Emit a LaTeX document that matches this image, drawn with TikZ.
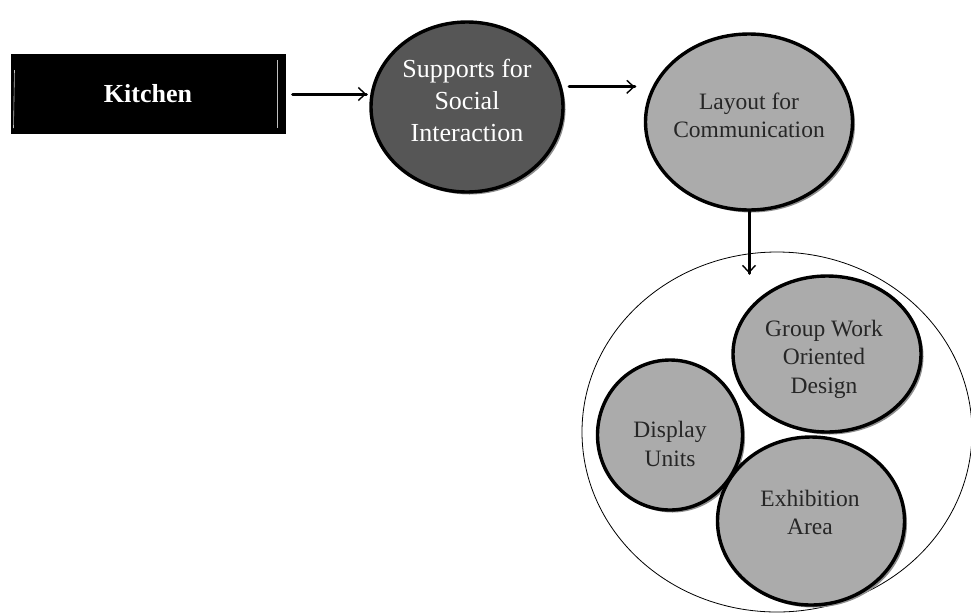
\documentclass[tikz,border=0pt]{standalone}
\usepackage{fontspec}
\setmainfont{Liberation Serif}
\usetikzlibrary{shapes.geometric,arrows.meta,shadows}

\definecolor{darkblob}{HTML}{565656}
\definecolor{lightblob}{HTML}{ABABAB}
\definecolor{rimgray}{HTML}{8E8E8E}

\tikzset{
  blob/.style={ellipse, inner sep=0pt, line width=3.4pt, draw=black,
    drop shadow={shadow xshift=2.5pt, shadow yshift=-2.5pt, fill=rimgray, opacity=1}},
  darkblob/.style={blob, fill=darkblob},
  lightblob/.style={blob, fill=lightblob},
  darktext/.style={align=center, text=white, inner sep=0pt,
    font=\fontsize{26}{32}\selectfont},
  lighttext/.style={align=center, text=black!85, inner sep=0pt,
    font=\fontsize{23.5}{28.5}\selectfont},
  label box/.style={rectangle, fill=black, draw=black, line width=2pt,
    text=white, inner sep=0pt, font=\bfseries\fontsize{26}{30}\selectfont},
  flowshaft/.style={line width=3pt, line cap=round},
  flowtip/.style={line width=1.4pt, -{Straight Barb[length=7pt,width=13pt]}},
  group ring/.style={ellipse, draw=black, line width=0.8pt, inner sep=0pt}
}

\begin{document}
\begin{tikzpicture}[x=1pt,y=-1pt]
  \useasboundingbox (0,0) rectangle (971,614);

  % outer grouping ring
  \node[group ring, minimum width=390pt, minimum height=360pt] (ring) at (777,432) {};

  % top row
  \node[label box, minimum width=273pt, minimum height=78pt] (kitchen) at (148,94) {Kitchen};
  \draw[white!75!black, line width=0.6pt] ([shift={(-8pt,-6pt)}]kitchen.north east) -- ([shift={(-8pt,6pt)}]kitchen.south east);
  \draw[white!75!black, line width=0.6pt] ([shift={(4pt,-16pt)}]kitchen.north west) -- ([shift={(3pt,6pt)}]kitchen.south west);

  \node[darkblob, minimum width=192pt, minimum height=170pt] (social) at (467,107) {};
  \node[darktext] (socialtxt) at (467,100) {Supports for\\Social\\Interaction};

  \node[lightblob, minimum width=207pt, minimum height=176pt] (layout) at (749,122) {};
  \node[lighttext] (layouttxt) at (749,115.5) {Layout for\\Communication};

  % inner group
  \node[lightblob, minimum width=188pt, minimum height=156pt] (group) at (827,354) {};
  \node[lighttext] (grouptxt) at (824,359) {Group Work\\Oriented\\Design};

  \node[lightblob, minimum width=145pt, minimum height=150pt] (display) at (670,435) {};
  \node[lighttext] (displaytxt) at (670,444) {Display\\Units};

  \node[lightblob, minimum width=187pt, minimum height=168pt] (exhib) at (811,521) {};
  \node[lighttext] (exhibtxt) at (810,512.5) {Exhibition\\Area};

  % connectors: ends computed first, then shaft and barb
  \coordinate (k1) at ([xshift=7pt]kitchen.east);
  \coordinate (k2) at ([xshift=-3pt]kitchen.east -| social.west);
  \coordinate (s1) at ([xshift=7pt]social.12);
  \coordinate (s2) at ([xshift=-9pt]social.12 -| layout.west);
  \coordinate (l1) at (layout.south);
  \coordinate (l2) at ([yshift=1pt]layout.south |- group.north);

  \draw[flowshaft] (k1) -- (k2);
  \draw[flowshaft] (s1) -- (s2);
  \draw[flowshaft] (l1) -- (l2);
  \draw[flowtip] ([xshift=-4pt]k2) -- (k2);
  \draw[flowtip] ([xshift=-4pt]s2) -- (s2);
  \draw[flowtip] ([yshift=4pt]l2) -- (l2);
\end{tikzpicture}
\end{document}
